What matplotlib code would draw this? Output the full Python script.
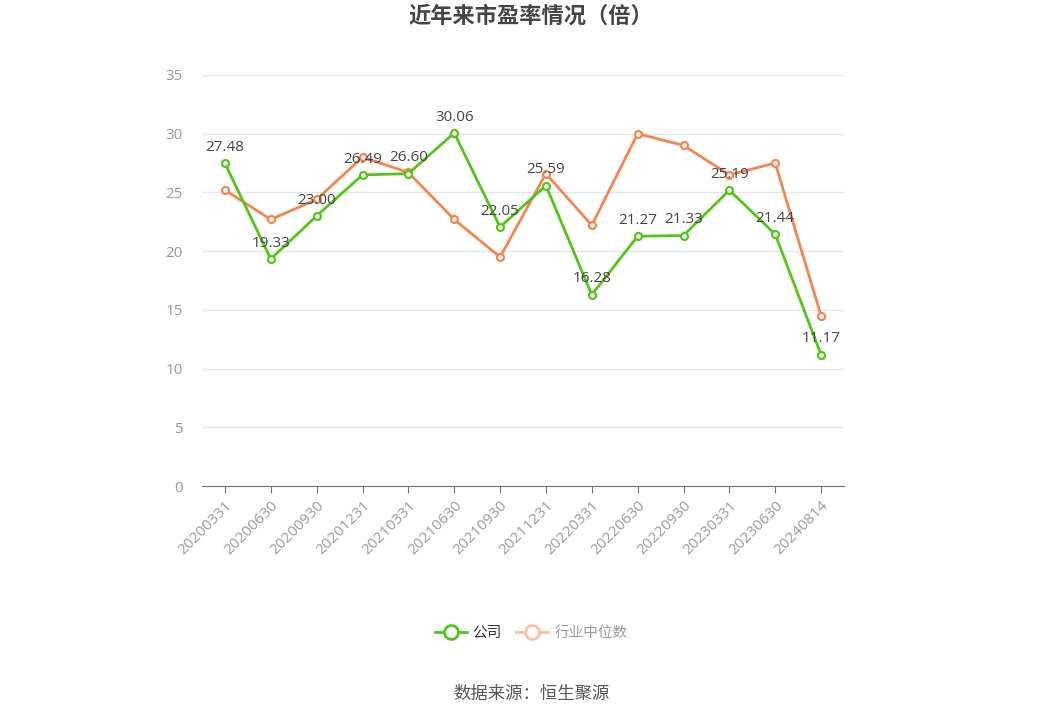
import matplotlib
matplotlib.use('Agg')
from matplotlib import pyplot as plt
from matplotlib.lines import Line2D

plt.rcParams['font.family'] = ['Noto Sans CJK SC', 'DejaVu Sans']
num_font = ['Open Sans', 'DejaVu Sans']

dates = ['20200331', '20200630', '20200930', '20201231', '20210331', '20210630', '20210930',
         '20211231', '20220331', '20220630', '20220930', '20230331', '20230630', '20240814']
company = [27.48, 19.33, 23.00, 26.49, 26.60, 30.06, 22.05, 25.59, 16.28, 21.27, 21.33, 25.19, 21.44, 11.17]
industry = [25.2, 22.7, 24.4, 28.0, 26.7, 22.7, 19.5, 26.6, 22.2, 30.0, 29.0, 26.5, 27.5, 14.5]

green = '#52c41a'
orange = '#f4854f'

fig = plt.figure(figsize=(10.62, 7.18), dpi=100)
ax = fig.add_axes([202 / 1062, 1 - 486 / 718, 642 / 1062, 411 / 718])
x = list(range(len(dates)))

ax.plot(x, industry, color=orange, lw=2, marker='o', ms=5, mfc='white', mec=orange, mew=1.6, zorder=3)
ax.plot(x, company, color=green, lw=2, marker='o', ms=5, mfc='white', mec=green, mew=1.6, zorder=4)

for i, v in enumerate(company):
    ax.annotate('%.2f' % v, (i, v), xytext=(0, 6), textcoords='offset points',
                ha='center', va='bottom', fontsize=11, color='#444444', zorder=5, family=num_font)

ax.set_xlim(-0.5, len(dates) - 0.5)
ax.set_ylim(0, 35)
ax.set_yticks(range(0, 36, 5))
ax.grid(axis='y', color='#e0e6f1', lw=1)
ax.set_axisbelow(True)
for s in ['left', 'right', 'top']:
    ax.spines[s].set_visible(False)
ax.spines['bottom'].set_color('#6e7079')
ax.tick_params(axis='y', length=0, labelcolor='#999999', labelsize=11, pad=14)
ax.tick_params(axis='x', length=5, color='#6e7079', labelcolor='#999999', labelsize=11)
ax.set_xticks(x)
ax.set_xticklabels(dates, rotation=45, ha='right', rotation_mode='anchor')
for lab in ax.get_xticklabels() + ax.get_yticklabels():
    lab.set_family(num_font)

fig.text(0.5, 1 - 16 / 718, '近年来市盈率情况（倍）', ha='center', va='center',
         fontsize=16, fontweight='bold', color='#444444')

handles = [Line2D([], [], color=green, lw=2, marker='o', ms=10, mfc='white', mec=green, mew=2),
           Line2D([], [], color='#fbbfa3', lw=2, marker='o', ms=10, mfc='white', mec='#fbbfa3', mew=2)]
leg = fig.legend(handles, ['公司', '行业中位数'], loc='center', bbox_to_anchor=(531 / 1062, 1 - 633 / 718),
                 ncol=2, frameon=False, fontsize=10.5, handlelength=2.2, columnspacing=1.0, handletextpad=0.4)
leg.get_texts()[0].set_color('#333333')
leg.get_texts()[1].set_color('#999999')

fig.text(531 / 1062, 1 - 694 / 718, '数据来源：恒生聚源', ha='center', va='center', fontsize=12.5, color='#555555')

fig.savefig('out.png', dpi=100)
